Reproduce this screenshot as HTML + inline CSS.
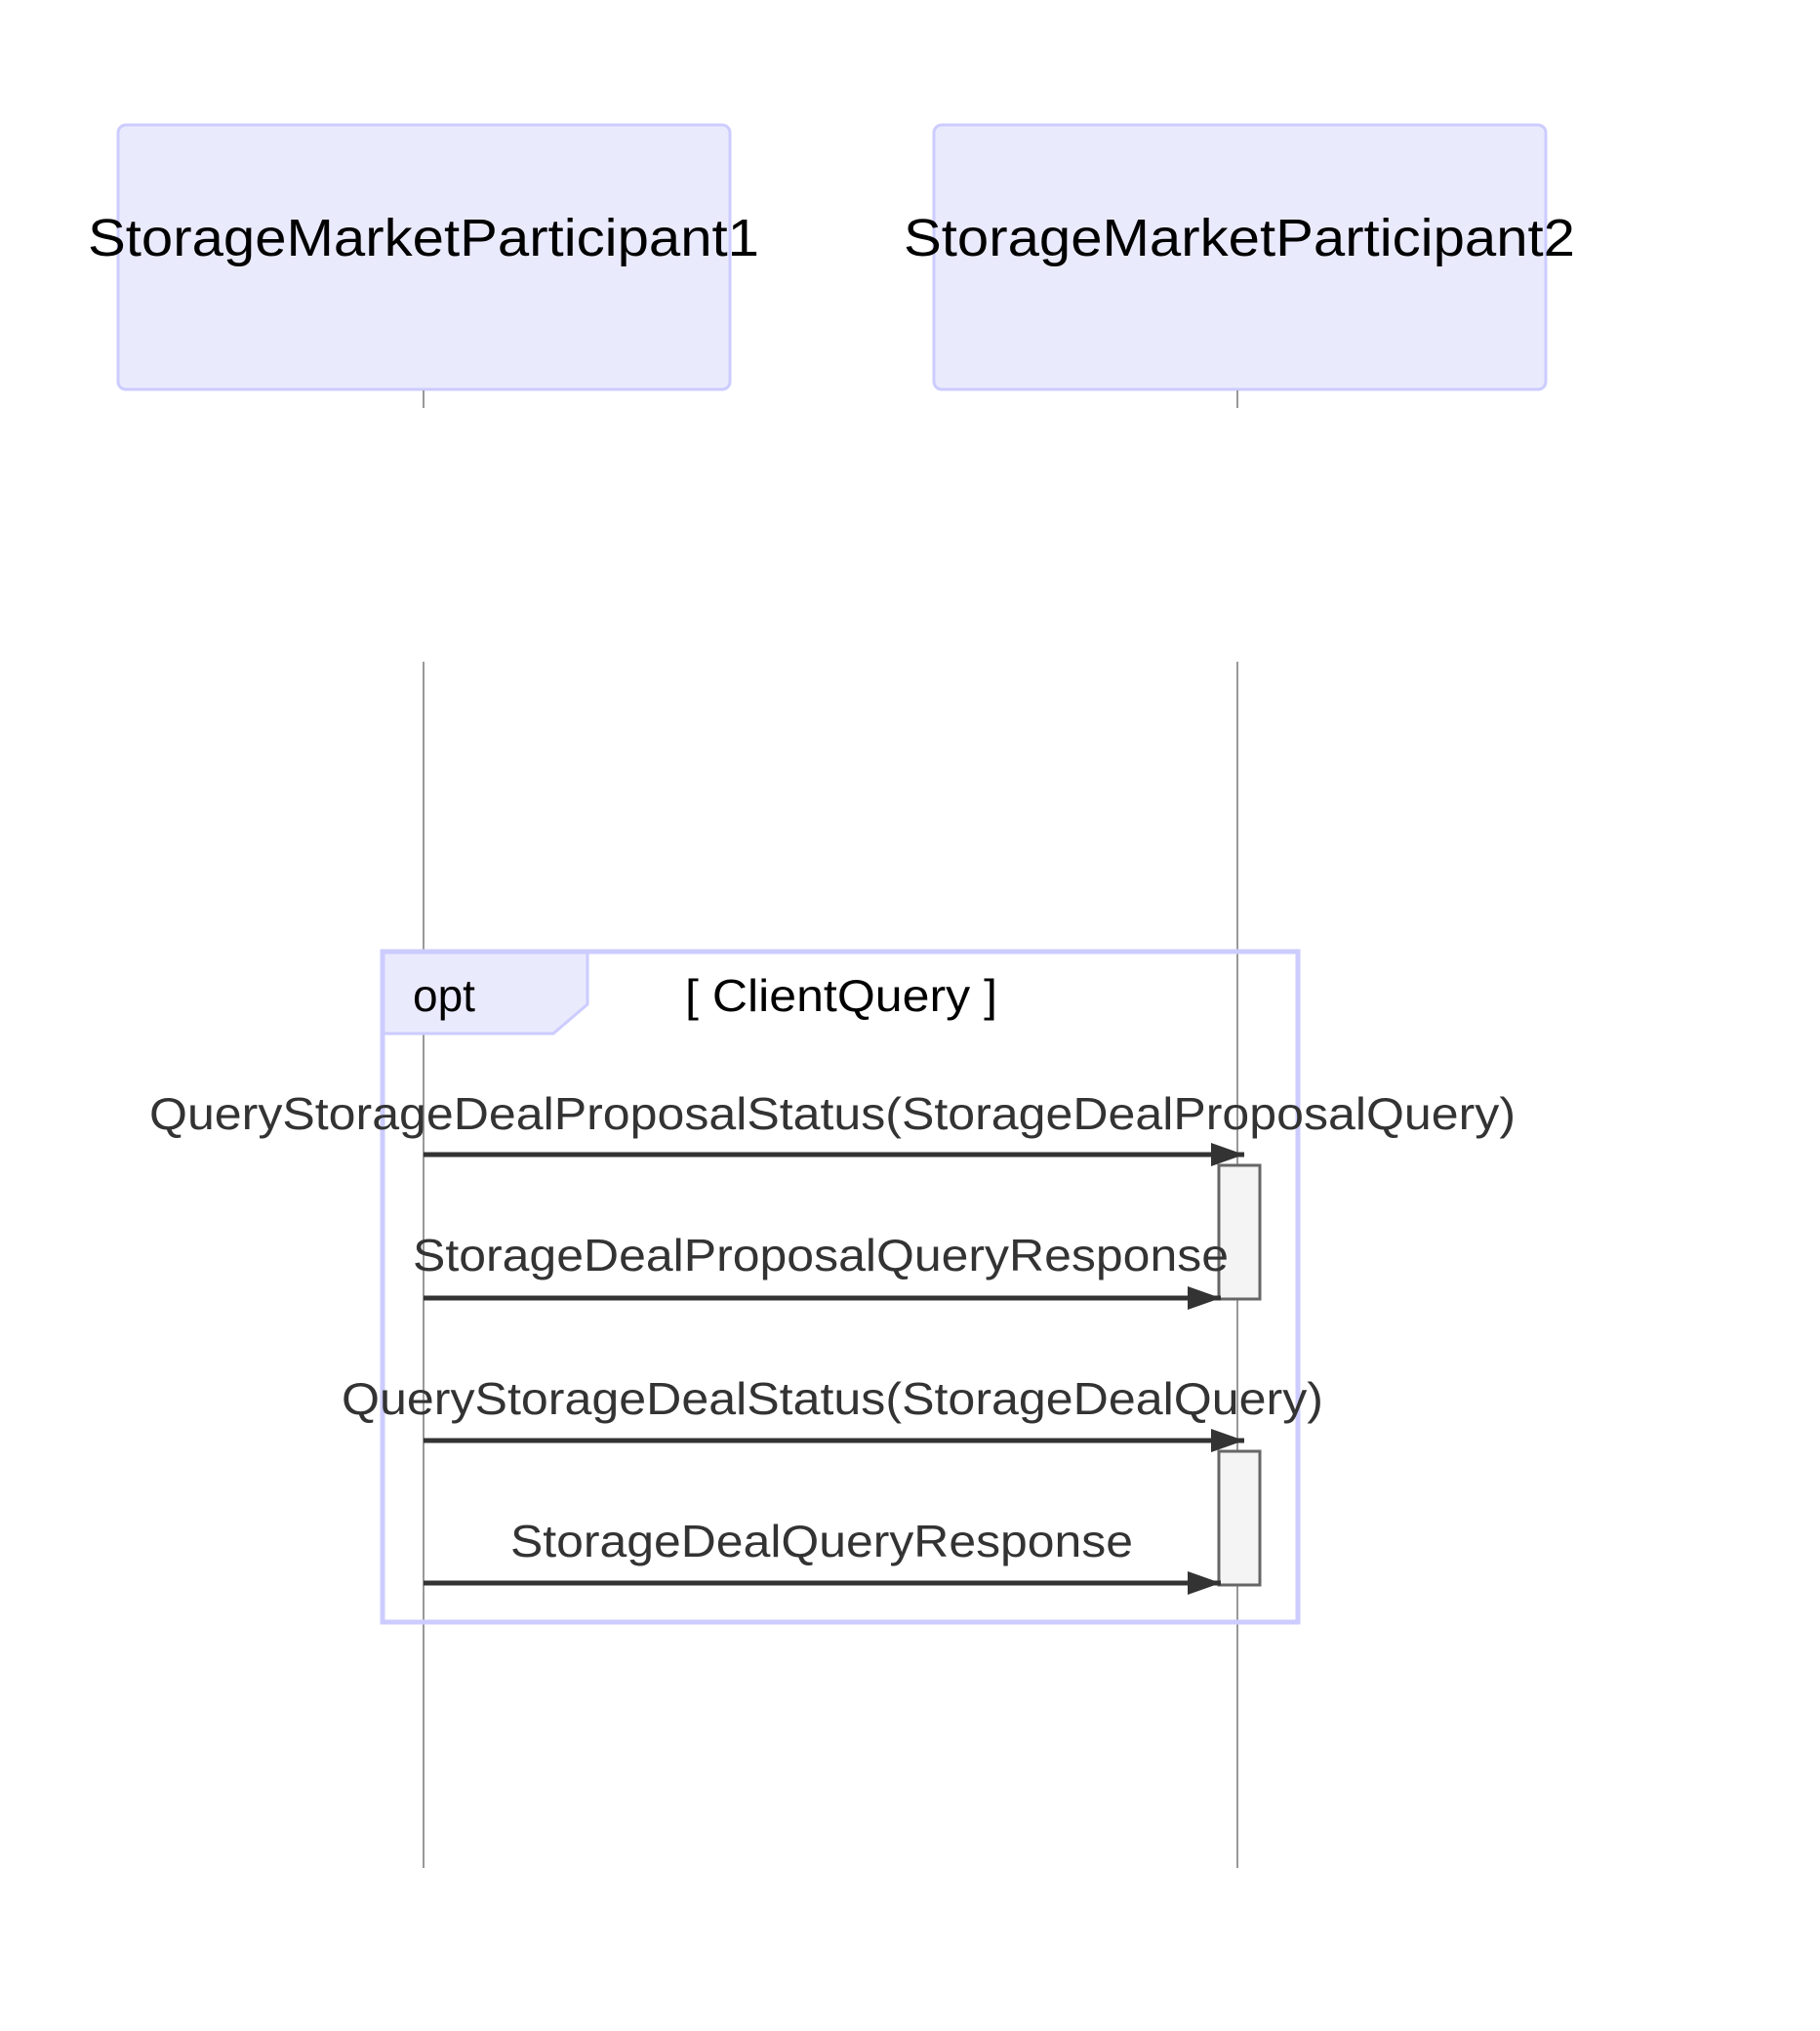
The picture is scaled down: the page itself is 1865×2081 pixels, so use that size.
<!DOCTYPE html>
<html><head><meta charset="utf-8"><style>html,body{margin:0;padding:0;background:#fff}svg{display:block}</style></head>
<body>
<svg width="1865" height="2081" viewBox="0 0 1865 2081" xmlns="http://www.w3.org/2000/svg" font-family="Liberation Sans, Arial, sans-serif">
<defs>
<marker id="ah" markerWidth="34" markerHeight="24" refX="34" refY="12" orient="auto" markerUnits="userSpaceOnUse" viewBox="0 0 34 24"><path d="M0,0 L34,12 L0,24 z" fill="#333"/></marker>
</defs>
<rect x="0" y="0" width="1865" height="2081" fill="#fff"/>
<rect x="121" y="128" width="627" height="271" rx="8" fill="#eaeafd" stroke="#ccccff" stroke-width="3"/>
<rect x="957" y="128" width="627" height="271" rx="8" fill="#eaeafd" stroke="#ccccff" stroke-width="3"/>
<text x="434" y="262" text-anchor="middle" font-size="54" fill="#000" textLength="688" lengthAdjust="spacingAndGlyphs">StorageMarketParticipant1</text>
<text x="1270" y="262" text-anchor="middle" font-size="54" fill="#000" textLength="688" lengthAdjust="spacingAndGlyphs">StorageMarketParticipant2</text>
<g stroke="#999" stroke-width="2">
<line x1="434" y1="400" x2="434" y2="418"/><line x1="434" y1="678" x2="434" y2="1914"/>
<line x1="1268" y1="400" x2="1268" y2="418"/><line x1="1268" y1="678" x2="1268" y2="1914"/>
</g>
<polygon points="391,975 602,975 602,1029 567,1059 391,1059" fill="#eaeafd" stroke="#ccccff" stroke-width="3"/>
<rect x="392" y="975" width="938" height="687" fill="none" stroke="#ccccff" stroke-width="5"/>
<text x="423" y="1036" font-size="46" fill="#000">opt</text>
<text x="862" y="1036" text-anchor="middle" font-size="46" fill="#000" textLength="320" lengthAdjust="spacingAndGlyphs">[ ClientQuery ]</text>
<rect x="1249" y="1194" width="42" height="137" fill="#f4f4f4" stroke="#666" stroke-width="3"/>
<rect x="1249" y="1487" width="42" height="137" fill="#f4f4f4" stroke="#666" stroke-width="3"/>
<g stroke="#333" stroke-width="5" marker-end="url(#ah)">
<line x1="434" y1="1183" x2="1275" y2="1183"/>
<line x1="434" y1="1330" x2="1251" y2="1330"/>
<line x1="434" y1="1476" x2="1275" y2="1476"/>
<line x1="434" y1="1622" x2="1251" y2="1622"/>
</g>
<g font-size="46" fill="#333" text-anchor="middle">
<text x="853" y="1157" textLength="1400" lengthAdjust="spacingAndGlyphs">QueryStorageDealProposalStatus(StorageDealProposalQuery)</text>
<text x="841" y="1302" textLength="836" lengthAdjust="spacingAndGlyphs">StorageDealProposalQueryResponse</text>
<text x="853" y="1449" textLength="1006" lengthAdjust="spacingAndGlyphs">QueryStorageDealStatus(StorageDealQuery)</text>
<text x="842" y="1595" textLength="638" lengthAdjust="spacingAndGlyphs">StorageDealQueryResponse</text>
</g>
</svg>
</body></html>
